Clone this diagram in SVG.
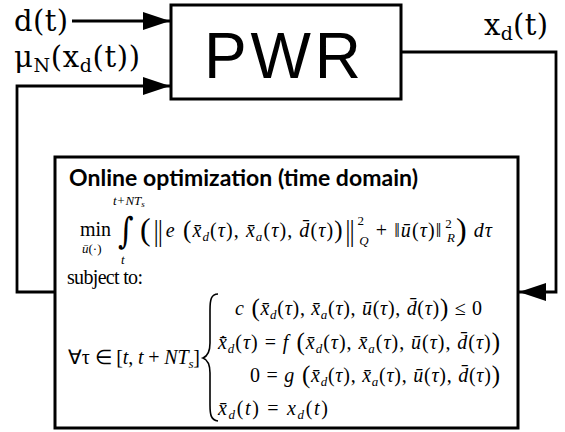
<svg xmlns="http://www.w3.org/2000/svg" width="565" height="432" viewBox="0 0 565 432">
<defs>
<marker id="ah" markerUnits="userSpaceOnUse" markerWidth="30" markerHeight="20" refX="27" refY="9" orient="auto"><path d="M0,0 L27,9 L0,18 z" fill="#000"/></marker>
<style>
.ln{fill:none;stroke:#000;stroke-width:2.8}
.box{fill:#fff;stroke:#000;stroke-width:3}
.lbl{font-family:"DejaVu Serif",serif;font-size:29px;fill:#000}
.lsb{font-size:19px}
.m{font-family:"Liberation Serif",serif;font-size:20px;fill:#000}
.i{font-style:italic}
.sb{font-size:13px}
.big{font-size:32px}
.nb{font-family:"DejaVu Sans",sans-serif;font-size:26px;font-weight:300}
.mid{font-size:25px}
.sans{fill:#000}
</style>
</defs>
<rect width="565" height="432" fill="#fff"/>
<g id="connectors">
<path class="ln" d="M72,21 H170" marker-end="url(#ah)"/>
<path class="ln" d="M55,292 H17 V86 H170" marker-end="url(#ah)"/>
<path class="ln" d="M401,52 H556 V292 H519" marker-end="url(#ah)"/>
</g>
<g id="labels">
<text class="lbl" x="14" y="31" textLength="54">d(t)</text>
<text class="lbl" x="14" y="67" textLength="126">μ<tspan class="lsb" dy="5">N</tspan><tspan dy="-5">(x</tspan><tspan class="lsb" dy="5">d</tspan><tspan dy="-5">(t))</tspan></text>
<text class="lbl" x="484" y="35" textLength="64">x<tspan class="lsb" dy="5">d</tspan><tspan dy="-5">(t)</tspan></text>
</g>
<g id="pwr">
<rect class="box" x="171" y="5" width="230" height="94"/>
<text class="sans" x="204" y="78" font-family="'Liberation Sans',sans-serif" font-size="64" textLength="157">PWR</text>
</g>
<g id="optimization">
<rect class="box" x="55" y="157" width="463" height="271"/>
<text class="sans" x="69" y="186" font-family="Lato,'Liberation Sans',sans-serif" font-size="23" font-weight="700" textLength="349">Online optimization (time domain)</text>
<text class="m" x="80" y="236">min</text>
<text class="m sb" x="82" y="253"><tspan class="i">ū</tspan>(·)</text>
<text class="m i sb" x="113" y="205">t+NT<tspan font-size="9" dy="2">s</tspan></text>
<text x="0" y="0" font-family="'DejaVu Serif',serif" font-size="30" transform="translate(118,243) scale(1,1.2)">∫</text>
<text class="m i sb" x="121" y="264">t</text>
<text class="m" x="140" y="237" textLength="352"><tspan class="big" dy="3">(</tspan><tspan class="nb">‖</tspan><tspan class="i" dy="-3">e</tspan><tspan class="mid" dy="1"> (</tspan><tspan class="i" dy="-1">x̄</tspan><tspan class="sb i" dy="4">d</tspan><tspan dy="-4">(</tspan><tspan class="i">τ</tspan><tspan>), </tspan><tspan class="i">x̄</tspan><tspan class="sb i" dy="4">a</tspan><tspan dy="-4">(</tspan><tspan class="i">τ</tspan><tspan>), </tspan><tspan class="i">d̄</tspan><tspan>(</tspan><tspan class="i">τ</tspan><tspan>)</tspan><tspan class="mid" dy="1">)</tspan><tspan class="nb" dy="2">‖</tspan><tspan class="sb" dy="-15">2</tspan><tspan class="sb i" dx="-6" dy="20">Q</tspan><tspan dy="-8"> + ‖</tspan><tspan class="i">ū</tspan><tspan>(</tspan><tspan class="i">τ</tspan><tspan>)‖</tspan><tspan class="sb" dy="-9" dx="3">2</tspan><tspan class="sb i" dx="-6" dy="14">R</tspan><tspan class="big" dy="-2">)</tspan><tspan dy="-3"> </tspan><tspan class="i">dτ</tspan></text>
<text class="m" x="67" y="284" textLength="76">subject to:</text>
<text class="m" x="68" y="364" textLength="132">∀τ ∈ [<tspan class="i">t</tspan>, <tspan class="i">t</tspan> + <tspan class="i">NT</tspan><tspan class="sb i" dy="4">s</tspan><tspan dy="-4">]</tspan></text>
<path d="M218,294 C211,294 210,300 210,310 V343 C210,352 208,356 203,358 C208,360 210,364 210,373 V405 C210,415 211,420 218,421" fill="none" stroke="#000" stroke-width="1.6"/>
<text class="m" x="235" y="315" textLength="247"><tspan class="i">c</tspan><tspan class="mid" dy="1"> (</tspan><tspan class="i" dy="-1">x̄</tspan><tspan class="sb i" dy="4">d</tspan><tspan dy="-4">(</tspan><tspan class="i">τ</tspan><tspan>), </tspan><tspan class="i">x̄</tspan><tspan class="sb i" dy="4">a</tspan><tspan dy="-4">(</tspan><tspan class="i">τ</tspan><tspan>), </tspan><tspan class="i">ū</tspan><tspan>(</tspan><tspan class="i">τ</tspan><tspan>), </tspan><tspan class="i">d̄</tspan><tspan>(</tspan><tspan class="i">τ</tspan><tspan>)</tspan><tspan class="mid" dy="1">)</tspan><tspan dy="-1"> ≤ 0</tspan></text>
<text class="m" x="218" y="349" textLength="282"><tspan class="i">x̄̇</tspan><tspan class="sb i" dy="4">d</tspan><tspan dy="-4">(</tspan><tspan class="i">τ</tspan><tspan>) = </tspan><tspan class="i">f</tspan><tspan class="mid" dy="1"> (</tspan><tspan class="i" dy="-1">x̄</tspan><tspan class="sb i" dy="4">d</tspan><tspan dy="-4">(</tspan><tspan class="i">τ</tspan><tspan>), </tspan><tspan class="i">x̄</tspan><tspan class="sb i" dy="4">a</tspan><tspan dy="-4">(</tspan><tspan class="i">τ</tspan><tspan>), </tspan><tspan class="i">ū</tspan><tspan>(</tspan><tspan class="i">τ</tspan><tspan>), </tspan><tspan class="i">d̄</tspan><tspan>(</tspan><tspan class="i">τ</tspan><tspan>)</tspan><tspan class="mid" dy="1">)</tspan></text>
<text class="m" x="250" y="382" textLength="250"><tspan>0 = </tspan><tspan class="i">g</tspan><tspan class="mid" dy="1"> (</tspan><tspan class="i" dy="-1">x̄</tspan><tspan class="sb i" dy="4">d</tspan><tspan dy="-4">(</tspan><tspan class="i">τ</tspan><tspan>), </tspan><tspan class="i">x̄</tspan><tspan class="sb i" dy="4">a</tspan><tspan dy="-4">(</tspan><tspan class="i">τ</tspan><tspan>), </tspan><tspan class="i">ū</tspan><tspan>(</tspan><tspan class="i">τ</tspan><tspan>), </tspan><tspan class="i">d̄</tspan><tspan>(</tspan><tspan class="i">τ</tspan><tspan>)</tspan><tspan class="mid" dy="1">)</tspan></text>
<text class="m" x="218" y="415" textLength="110"><tspan class="i">x̄</tspan><tspan class="sb i" dy="4">d</tspan><tspan dy="-4">(</tspan><tspan class="i">t</tspan><tspan>) = </tspan><tspan class="i">x</tspan><tspan class="sb i" dy="4">d</tspan><tspan dy="-4">(</tspan><tspan class="i">t</tspan><tspan>)</tspan></text>
</g>
</svg>
